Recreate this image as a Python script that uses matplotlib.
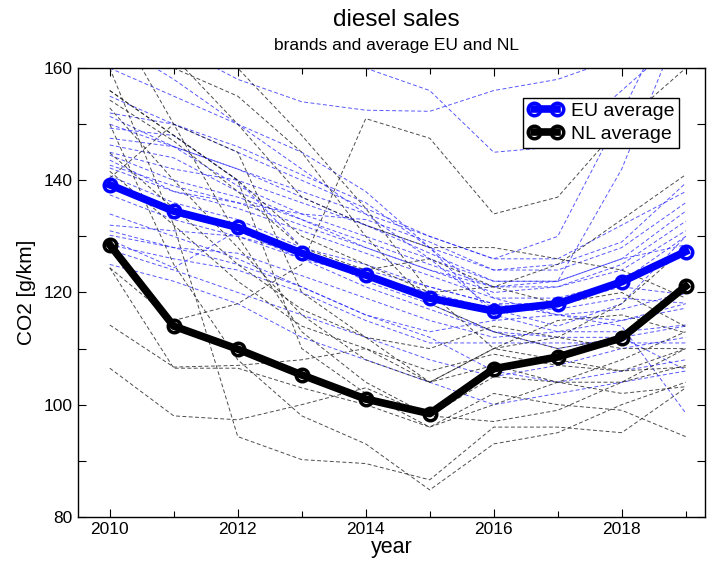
import matplotlib
matplotlib.use("Agg")
import matplotlib.pyplot as plt
import numpy as np

plt.rcParams['font.family'] = ['Liberation Sans', 'DejaVu Sans']

years = [2010, 2011, 2012, 2013, 2014, 2015, 2016, 2017, 2018, 2019]

eu_average = [139.2, 134.5, 131.6, 127.0, 123.1, 119.0, 116.7, 118.0, 121.9, 127.3]
nl_average = [128.5, 114.0, 109.9, 105.3, 101.0, 98.4, 106.4, 108.5, 111.9, 121.1]

eu_brands = [
    [170, 164, 158, 154, 152.5, 152.3, 156, 158, 162, 168],
    [176, 172, 168, 164, 160, 156, 145, 146, 156, 166],
    [151.4, 146, 142, 138, 134, 130, 126, 126, 132, 138],
    [149.3, 148, 140, 136, 132, 128, 124, 124, 128, 136],
    [147.5, 146, 139, 134, 130, 126, 122, 122, 126, 134.5],
    [146.3, 144, 138, 133, 129, 125, 121, 121, 125, 132.7],
    [144.5, 140, 137, 133, 128, 124, 120, 121, 124, 131],
    [143.6, 138, 135, 131, 127, 123, 119, 119, 122, 130],
    [142.7, 139, 136, 132, 128, 124, 121, 122, 126, 128.5],
    [142.2, 138, 136, 134, 133, 129, 124, 125, 129, 139.5],
    [140.8, 136, 133, 128, 125, 121, 118, 118, 121, 119.6],
    [137.4, 133, 130, 126, 123, 120, 117, 117, 119, 118.1],
    [132, 131, 130, 127, 124, 121, 118, 116, 115, 117.2],
    [130.2, 128, 127, 123, 119, 115, 112, 113, 113, 114.2],
    [129.4, 124.4, 131, 126, 121, 117, 113, 112, 112, 106.2],
    [128.5, 126, 124, 120, 115, 111, 111, 111, 111, 111],
    [127.6, 124, 120, 116, 112, 108, 105, 107, 110, 112],
    [134, 130, 126, 121, 116, 113, 115, 116, 114, 98.5],
    [145, 142, 140, 128, 122, 118, 113, 110, 112, 114],
    [152, 150, 146, 141, 136, 128, 119, 116, 117, 120],
    [160, 155, 150, 145, 138, 128, 116, 113, 115, 118],
    [125, 122, 118, 112, 108, 104, 100, 102, 104, 106],
    [131, 128, 125, 121, 116, 112, 106, 104, 106, 108],
    [165, 158, 150, 142, 134, 126, 117, 114, 118, 130],
    [150, 146, 142, 137, 132, 127, 122, 122, 142, 170],
    [155, 150, 145, 140, 135, 130, 126, 130, 152, 175],
]

nl_brands = [
    [124.4, 115, 118, 125, 151, 147.5, 134, 137, 150, 160],
    [156, 148, 140, 130, 125, 120, 121, 125, 133, 141],
    [154.3, 147, 138, 128, 124, 126, 121, 118, 120, 113.9],
    [152.9, 140, 128, 116, 108, 104, 110, 115, 116, 112.8],
    [144.9, 135, 125, 117, 112, 110, 114, 112, 110, 110],
    [141.6, 132, 122, 114, 110, 106, 109, 107, 106, 106.7],
    [140.4, 150, 145, 120, 112, 104, 107, 104, 102, 103.2],
    [124.4, 106.5, 106.5, 103, 100, 96, 102, 100, 99, 94.3],
    [114.2, 106.7, 107, 108, 110, 104, 110, 108, 106, 110],
    [106.5, 98, 97.3, 100, 103, 98, 105, 104, 104, 107],
    [160, 132, 94.3, 90.2, 89.5, 86.6, 96, 96, 95, 103],
    [150, 125, 108, 98, 93, 84.8, 93, 95, 100, 104],
    [170, 150, 130, 113, 104, 98, 97, 99, 104, 110],
    [156, 148, 140, 110, 102, 96, 100, 104, 108, 113],
    [165, 160, 155, 145, 130, 118, 113, 110, 112, 122],
    [175, 168, 160, 148, 135, 120, 110, 112, 118, 128],
    [168, 162, 150, 137, 132, 128, 128, 126, 124, 119],
]

fig = plt.figure(figsize=(7.07, 5.63), dpi=100)
ax = fig.add_axes([0.110, 0.082, 0.887, 0.797])

for s in eu_brands:
    ax.plot(years, s, color='#2020ff', lw=0.7, ls=(0, (4, 2.5)), alpha=0.75, zorder=2)
for s in nl_brands:
    ax.plot(years, s, color='#202020', lw=0.7, ls=(0, (4, 2.5)), alpha=0.8, zorder=2)

ax.plot(years, eu_average, color='#0000ff', lw=5.5, marker='o', ms=9,
        mfc='none', mec='#0000ff', mew=2.5, label='EU average', zorder=4)
ax.plot(years, nl_average, color='#000000', lw=5.5, marker='o', ms=9,
        mfc='none', mec='#000000', mew=2.5, label='NL average', zorder=4)

ax.set_xlim(2009.5, 2019.3)
ax.set_ylim(80, 160)
ax.set_xticks([2010, 2012, 2014, 2016, 2018])
ax.set_xticks([2011, 2013, 2015, 2017, 2019], minor=True)
ax.set_yticks([80, 100, 120, 140, 160])
ax.set_yticks([90, 110, 130, 150], minor=True)
ax.tick_params(which='both', direction='in', top=True, right=True, labelsize=12.5, width=0.8)
ax.tick_params(which='major', length=6)
ax.tick_params(which='minor', length=4)
ax.tick_params(axis='y', which='minor', length=6)
for sp in ax.spines.values():
    sp.set_linewidth(1.0)

ax.set_xlabel('year', fontsize=15.5, labelpad=0)
ax.set_ylabel('CO2 [g/km]', fontsize=15, labelpad=6)

fig.text(0.561, 0.964, 'diesel sales', ha='center', va='center', fontsize=17.5)
fig.text(0.561, 0.92, 'brands and average EU and NL', ha='center', va='center', fontsize=12.5)

leg = ax.legend(loc='upper right', bbox_to_anchor=(0.968, 0.947), fontsize=14,
                numpoints=2, handlelength=1.8, fancybox=False, framealpha=1,
                edgecolor='black', borderpad=0.25, labelspacing=0.25, handletextpad=0.4,
                borderaxespad=0.3)
leg.get_frame().set_linewidth(1.0)

fig.savefig('out.png', dpi=100)
